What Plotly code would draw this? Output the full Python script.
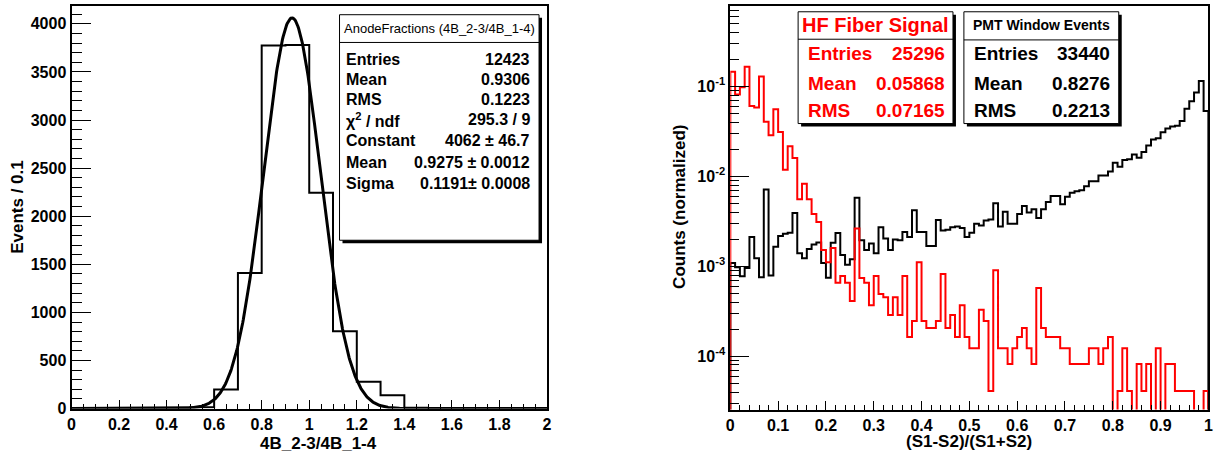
import numpy as np
import plotly.graph_objects as go

W, H = 1225, 463

# ---------------- data: left panel ----------------
anode_bin_edges = [0.0, 0.1, 0.2, 0.3, 0.4, 0.5, 0.6, 0.7, 0.8, 0.9, 1.0,
                   1.1, 1.2, 1.3, 1.4, 1.5, 1.6, 1.7, 1.8, 1.9, 2.0]
anode_counts = [0, 0, 0, 0, 1, 15, 198, 1410, 3775, 3780,
                2245, 805, 278, 140, 8, 3, 1, 0, 0, 0]
fit_constant = 4062.0
fit_mean = 0.9275
fit_sigma = 0.1191

left_stats_title = "AnodeFractions (4B_2-3/4B_1-4)"
left_stats_labels = ["Entries", "Mean", "RMS", "χ<sup>2</sup> / ndf", "Constant", "Mean", "Sigma"]
left_stats_values = ["12423", "0.9306", "0.1223", "295.3 / 9", "4062 ± 46.7",
                     "0.9275 ± 0.0012", "0.1191± 0.0008"]

# ---------------- data: right panel ----------------
ratio_nbins = 100
ratio_range = (0.0, 1.0)

hf_fiber_signal = [
    0.1465, 0.0816, 0.0980, 0.1662, 0.0608, 0.0584, 0.1293, 0.0407, 0.0287, 0.0559,
    0.0312, 0.0119, 0.0217, 0.0160, 0.00559, 0.00830, 0.00559, 0.00382, 0.00312, 0.00152,
    0.00111, 0.00160, 0.000658, 0.000781, 0.000658, 0.000411, 0.00263, 0.000740, 0.000658, 0.000370,
    0.000781, 0.000493, 0.000452, 0.000288, 0.000452, 0.000288, 0.000781, 0.000164, 0.000247, 0.00111,
    0.000247, 0.000206, 0.000206, 0.000247, 0.000822, 0.000206, 0.000288, 0.000164, 0.000370, 0.000164,
    0.000123, 0.000123, 0.000329, 0.000247, 0.0000411, 0.000904, 0.000123, 0.000123, 0.0000822, 0.000123,
    0.000164, 0.000206, 0.000123, 0.0000822, 0.000575, 0.000206, 0.000164, 0.000164, 0.000164, 0.000123,
    0.000123, 0.0000822, 0.0000822, 0.0000822, 0.0000822, 0.000123, 0.000123, 0.0000822, 0.000123, 0.000164,
    0.0, 0.0000411, 0.000123, 0.0000411, 0.0, 0.0000822, 0.0000411, 0.0000822, 0.0, 0.000123,
    0.0, 0.0000822, 0.0000822, 0.0000411, 0.0000411, 0.0000411, 0.0000411, 0.0, 0.0, 0.0000411,
]

pmt_window_events = [
    0.001087, 0.000975, 0.000778, 0.000959, 0.002125, 0.001233, 0.000759, 0.007152, 0.000791, 0.001653,
    0.002179, 0.002310, 0.002369, 0.003915, 0.001398, 0.001233, 0.001558, 0.001752, 0.001842, 0.001087,
    0.000746, 0.001827, 0.002349, 0.001341, 0.001043, 0.001202, 0.005801, 0.001954, 0.001520, 0.001797,
    0.001398, 0.002732, 0.002038, 0.001520, 0.001987, 0.001954, 0.002409, 0.002125, 0.004222, 0.002409,
    0.002409, 0.001681, 0.001681, 0.003284, 0.002512, 0.002554, 0.002732, 0.002778, 0.002664, 0.002125,
    0.002369, 0.002970, 0.002849, 0.003229, 0.003311, 0.005032, 0.002778, 0.004049, 0.002970, 0.002970,
    0.003818, 0.004708, 0.003981, 0.004329, 0.003453, 0.004329, 0.005204, 0.006050, 0.006050, 0.004909,
    0.005949, 0.006579, 0.006861, 0.007036, 0.007779, 0.008820, 0.008820, 0.010254, 0.010254, 0.011338,
    0.014217, 0.012857, 0.015199, 0.015585, 0.017522, 0.016117, 0.018738, 0.022153, 0.025755, 0.026636,
    0.030962, 0.034233, 0.036003, 0.036611, 0.041504, 0.056605, 0.068615, 0.085981, 0.115303, 0.053377,
]

hf_stats = [("Entries", "25296"), ("Mean", "0.05868"), ("RMS", "0.07165")]
pmt_stats = [("Entries", "33440"), ("Mean", "0.8276"), ("RMS", "0.2213")]

# ---------------- helpers ----------------
FONT = "Liberation Sans, Arial, Helvetica, sans-serif"
RED = "#ff0000"


def px(x):
    return x / W


def py(y):
    return 1 - y / H


def step_xy(edges, vals, floor):
    xs = [edges[0], edges[0]] + list(edges[1:-1]) + [edges[-1], edges[-1]]
    v = [val if val > 0 else floor for val in vals]
    ys = [floor] + v + [v[-1], floor]
    return xs, ys


fig = go.Figure()

# ---------------- left panel traces ----------------
lx, ly = step_xy(anode_bin_edges, anode_counts, 0.0)
fig.add_trace(go.Scatter(x=lx, y=ly, mode="lines", line=dict(color="black", width=2, shape="hv"),
                         xaxis="x", yaxis="y", hoverinfo="skip"))
fit_x = np.linspace(anode_bin_edges[0], anode_bin_edges[-1], 801)
fit_y = fit_constant * np.exp(-0.5 * ((fit_x - fit_mean) / fit_sigma) ** 2)
fig.add_trace(go.Scatter(x=fit_x, y=fit_y, mode="lines", line=dict(color="black", width=3),
                         xaxis="x", yaxis="y", hoverinfo="skip"))

# ---------------- right panel traces ----------------
ratio_edges = np.linspace(ratio_range[0], ratio_range[1], ratio_nbins + 1)
bx, by = step_xy(ratio_edges, pmt_window_events, 1e-7)
fig.add_trace(go.Scatter(x=bx, y=by, mode="lines", line=dict(color="black", width=2, shape="hv"),
                         xaxis="x2", yaxis="y2", hoverinfo="skip"))
rx, ry = step_xy(ratio_edges, hf_fiber_signal, 1e-7)
fig.add_trace(go.Scatter(x=rx, y=ry, mode="lines", line=dict(color=RED, width=2, shape="hv"),
                         xaxis="x2", yaxis="y2", hoverinfo="skip"))

# ---------------- axes ----------------
tickfont = dict(family=FONT, size=16, color="black", weight="bold")
common = dict(showgrid=False, zeroline=False, showline=True, linecolor="black", linewidth=2,
              mirror=True, ticks="inside", tickcolor="black", tickfont=tickfont)

minor_log = [m * 10.0 ** e for e in range(-5, 0) for m in range(2, 10)]

fig.update_layout(
    width=W, height=H, margin=dict(l=0, r=0, t=0, b=0),
    paper_bgcolor="white", plot_bgcolor="white", showlegend=False,
    xaxis=dict(domain=[px(68), px(547)], range=[0, 2], dtick=0.2, tick0=0, ticklen=9, tickwidth=1,
               minor=dict(dtick=0.05, ticklen=5, tickcolor="black", ticks="inside"),
               anchor="y", **common),
    yaxis=dict(domain=[py(416.7), py(6)], range=[0, 4187], dtick=500, tick0=0, ticklen=19, tickwidth=1,
               tickformat="d",
               minor=dict(dtick=100, ticklen=10, tickcolor="black", ticks="inside"),
               anchor="x", **common),
    xaxis2=dict(domain=[px(731.7), px(1213.3)], range=[0, 1], dtick=0.1, tick0=0, ticklen=9, tickwidth=1,
                minor=dict(dtick=0.02, ticklen=5, tickcolor="black", ticks="inside"),
                anchor="y2", **common),
    yaxis2=dict(domain=[py(417.7), py(6)], type="log", range=[-4.593, -0.1025],
                tickvals=[1e-4, 1e-3, 1e-2, 1e-1],
                ticktext=["10<sup>-4</sup>", "10<sup>-3</sup>", "10<sup>-2</sup>", "10<sup>-1</sup>"],
                ticklen=19, tickwidth=1,
                minor=dict(tickvals=minor_log, ticklen=9, tickcolor="black", ticks="inside"),
                anchor="x2", **common),
)

# ---------------- axis titles ----------------
ann = []
title_font = dict(family=FONT, size=17, color="black", weight="bold")
ann.append(dict(x=px(14), y=py(211), text="Events / 0.1", textangle=-90, showarrow=False,
                xref="paper", yref="paper", xanchor="center", yanchor="middle", font=title_font))
ann.append(dict(x=px(317), y=py(452), text="4B_2-3/4B_1-4", showarrow=False,
                xref="paper", yref="paper", xanchor="center", yanchor="middle", font=title_font))
ann.append(dict(x=px(681), y=py(211), text="Counts (normalized)", textangle=-90, showarrow=False,
                xref="paper", yref="paper", xanchor="center", yanchor="middle", font=title_font))
ann.append(dict(x=px(972.5), y=py(450), text="(S1-S2)/(S1+S2)", showarrow=False,
                xref="paper", yref="paper", xanchor="center", yanchor="middle", font=title_font))

# ---------------- stat boxes ----------------
shapes = []


def stat_box(x0, y0, x1, y1, sep_y, shadow=3):
    shapes.append(dict(type="rect", xref="paper", yref="paper",
                       x0=px(x0 + shadow), x1=px(x1 + shadow), y0=py(y1 + shadow), y1=py(y0 + shadow),
                       fillcolor="black", line=dict(width=0), layer="above"))
    shapes.append(dict(type="rect", xref="paper", yref="paper",
                       x0=px(x0), x1=px(x1), y0=py(y1), y1=py(y0),
                       fillcolor="white", line=dict(color="black", width=1), layer="above"))
    shapes.append(dict(type="line", xref="paper", yref="paper",
                       x0=px(x0), x1=px(x1), y0=py(sep_y), y1=py(sep_y),
                       line=dict(color="black", width=1), layer="above"))


def text(x, y, s, anchor, size, color="black", weight="bold"):
    ann.append(dict(x=px(x), y=py(y), text=s, showarrow=False, xref="paper", yref="paper",
                    xanchor=anchor, yanchor="middle",
                    font=dict(family=FONT, size=size, color=color, weight=weight)))


# left box
stat_box(338, 15, 539, 245, 43.3)
text(438.5, 29, left_stats_title, "center", 13, weight="normal")
left_rows_y = [60.5, 81, 101, 122, 143.5, 165.5, 187]
for yy, lab, val in zip(left_rows_y, left_stats_labels, left_stats_values):
    text(343, yy, lab, "left", 16)
    text(532, yy, val, "right", 16)

# red box
stat_box(800, 12, 956, 126, 40)
text(878, 25, "HF Fiber Signal", "center", 20, color=RED)
for yy, (lab, val) in zip([55, 85, 113], hf_stats):
    text(808, yy, lab, "left", 19, color=RED)
    text(950, yy, val, "right", 19, color=RED)

# black box
stat_box(967, 12, 1123, 126, 40.7)
text(1045, 25, "PMT Window Events", "center", 14)
for yy, (lab, val) in zip([55, 85, 113], pmt_stats):
    text(975, yy, lab, "left", 19)
    text(1116, yy, val, "right", 19)

fig.update_layout(annotations=ann, shapes=shapes)
fig.write_html("out.html")
